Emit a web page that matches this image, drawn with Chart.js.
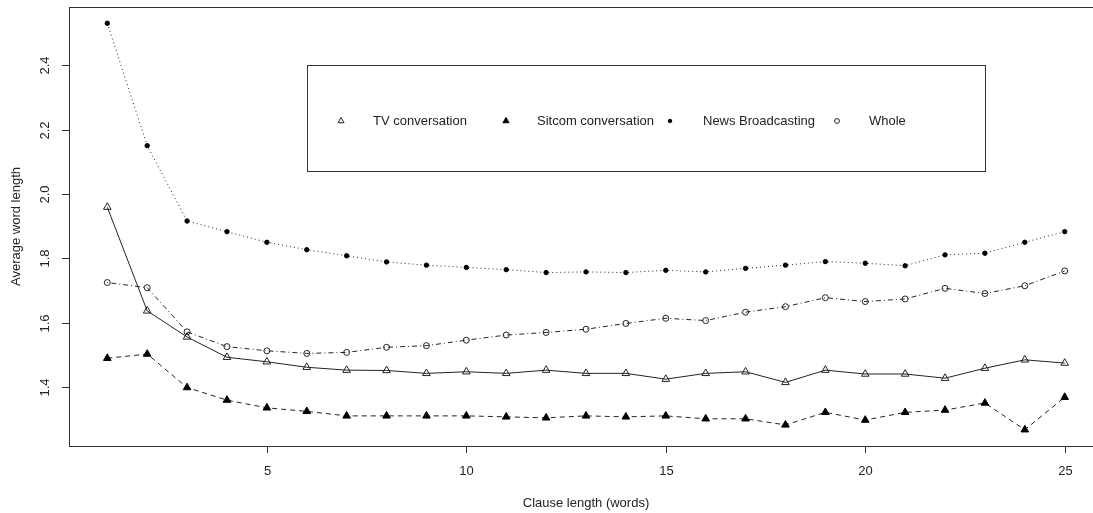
<!DOCTYPE html>
<html>
<head>
<meta charset="utf-8">
<script src="https://cdn.jsdelivr.net/npm/chart.js@4/dist/chart.umd.min.js"></script>
<style>
	html, body { margin: 0; padding: 0; background: #fff; overflow: hidden; }
	#wrap { width: 1110px; height: 513px; }
</style>
</head>
<body>
<div id="wrap"><canvas id="myChart" width="1110" height="513"></canvas></div>
<script>
const clauseLength = [1, 2, 3, 4, 5, 6, 7, 8, 9, 10, 11, 12, 13, 14, 15, 16, 17, 18, 19, 20, 21, 22, 23, 24, 25];
const tvConversation = [1.959, 1.637, 1.556, 1.493, 1.479, 1.462, 1.453, 1.452, 1.443, 1.448, 1.443, 1.453, 1.443, 1.443, 1.425, 1.443, 1.448, 1.415, 1.453, 1.441, 1.441, 1.428, 1.459, 1.485, 1.475];
const sitcomConversation = [1.490, 1.503, 1.399, 1.360, 1.336, 1.325, 1.311, 1.311, 1.311, 1.311, 1.308, 1.305, 1.311, 1.308, 1.311, 1.302, 1.302, 1.283, 1.322, 1.298, 1.322, 1.329, 1.351, 1.268, 1.369];
const newsBroadcasting = [2.530, 2.150, 1.916, 1.883, 1.850, 1.827, 1.808, 1.789, 1.779, 1.772, 1.765, 1.756, 1.758, 1.756, 1.763, 1.758, 1.769, 1.779, 1.790, 1.785, 1.777, 1.811, 1.816, 1.850, 1.883];
const whole = [1.725, 1.709, 1.572, 1.526, 1.513, 1.505, 1.508, 1.524, 1.529, 1.546, 1.562, 1.570, 1.580, 1.598, 1.614, 1.607, 1.633, 1.650, 1.678, 1.666, 1.674, 1.707, 1.691, 1.715, 1.761];
const xTicks = [5, 10, 15, 20, 25];
const yTicks = [1.4, 1.6, 1.8, 2.0, 2.2, 2.4];

const font = "Liberation Sans, Arial, sans-serif";
const ink = "#222";

function toPoints(values) {
	return clauseLength.map(function (x, i) { return { x: x, y: values[i] }; });
}

// legend positions inside the box (x of symbol, x of text)
const legendItems = [
	{ sym: 341, text: 373 },
	{ sym: 506, text: 537 },
	{ sym: 670, text: 703 },
	{ sym: 837, text: 869 },
];

const rAxes = {
	id: "rAxes",
	afterDraw: function (chart) {
		var ctx = chart.ctx;
		var area = chart.chartArea;
		var xs = chart.scales.x;
		var ys = chart.scales.y;
		ctx.save();
		ctx.strokeStyle = "#333";
		ctx.lineWidth = 1;
		ctx.setLineDash([]);
		ctx.strokeRect(Math.round(area.left) + 0.5, Math.round(area.top) + 0.5,
			Math.round(area.right - area.left), Math.round(area.bottom - area.top));

		ctx.fillStyle = ink;
		ctx.font = "13px " + font;
		ctx.textAlign = "center";
		ctx.textBaseline = "middle";

		// x axis
		xTicks.forEach(function (t) {
			var px = Math.round(xs.getPixelForValue(t)) + 0.5;
			ctx.beginPath();
			ctx.moveTo(px, area.bottom);
			ctx.lineTo(px, area.bottom + 7);
			ctx.stroke();
			ctx.fillText(String(t), px, 471);
		});

		// y axis
		yTicks.forEach(function (t) {
			var py = Math.round(ys.getPixelForValue(t)) + 0.5;
			ctx.beginPath();
			ctx.moveTo(area.left - 7, py);
			ctx.lineTo(area.left, py);
			ctx.stroke();
			ctx.save();
			ctx.translate(45, py);
			ctx.rotate(-Math.PI / 2);
			ctx.fillText(t.toFixed(1), 0, 0);
			ctx.restore();
		});

		// titles
		ctx.fillText("Clause length (words)", (area.left + area.right) / 2, 503);
		ctx.save();
		ctx.translate(16, (area.top + area.bottom) / 2);
		ctx.rotate(-Math.PI / 2);
		ctx.fillText("Average word length", 0, 0);
		ctx.restore();

		// legend box
		ctx.strokeRect(307.5, 65.5, 678, 106);
		ctx.textAlign = "left";
		chart.data.datasets.forEach(function (ds, i) {
			var item = legendItems[i];
			ctx.fillStyle = ds.pointBackgroundColor;
			ctx.strokeStyle = ds.pointBorderColor;
			ctx.lineWidth = 1;
			Chart.helpers.drawPoint(ctx, {
				pointStyle: ds.pointStyle,
				radius: ds.pointRadius * 0.8,
				rotation: 0,
				borderWidth: 1,
			}, item.sym, 121);
			ctx.fillStyle = ink;
			ctx.fillText(ds.label, item.text, 121);
		});
		ctx.restore();
	},
};

window.onload = function () {
	var ctx = document.getElementById("myChart").getContext("2d");
	var myChart = new Chart(ctx, {
		type: "line",
		data: {
			datasets: [
				{
					label: "TV conversation",
					data: toPoints(tvConversation),
					borderColor: ink,
					borderWidth: 1,
					pointStyle: "triangle",
					pointRadius: 4.4,
					pointBackgroundColor: "rgba(0,0,0,0)",
					pointBorderColor: ink,
					pointBorderWidth: 1,
				},
				{
					label: "Sitcom conversation",
					data: toPoints(sitcomConversation),
					borderColor: ink,
					borderWidth: 1,
					borderDash: [5, 4],
					pointStyle: "triangle",
					pointRadius: 4.4,
					pointBackgroundColor: "#000",
					pointBorderColor: "#000",
					pointBorderWidth: 1,
				},
				{
					label: "News Broadcasting",
					data: toPoints(newsBroadcasting),
					borderColor: ink,
					borderWidth: 1,
					borderDash: [1, 3],
					pointStyle: "circle",
					pointRadius: 2.2,
					pointBackgroundColor: "#000",
					pointBorderColor: "#000",
					pointBorderWidth: 1,
				},
				{
					label: "Whole",
					data: toPoints(whole),
					borderColor: ink,
					borderWidth: 1,
					borderDash: [1, 3, 5, 3],
					pointStyle: "circle",
					pointRadius: 3,
					pointBackgroundColor: "rgba(0,0,0,0)",
					pointBorderColor: ink,
					pointBorderWidth: 1,
				},
			],
		},
		options: {
			responsive: false,
			animation: false,
			layout: { padding: { left: 69, top: 7, right: 7, bottom: 67 } },
			elements: { line: { tension: 0, fill: false } },
			plugins: { legend: { display: false }, tooltip: { enabled: false } },
			scales: {
				x: { type: "linear", min: 0.04, max: 25.96, display: false },
				y: { type: "linear", min: 1.2175, max: 2.5805, display: false },
			},
		},
		plugins: [rAxes],
	});
};
</script>
</body>
</html>
